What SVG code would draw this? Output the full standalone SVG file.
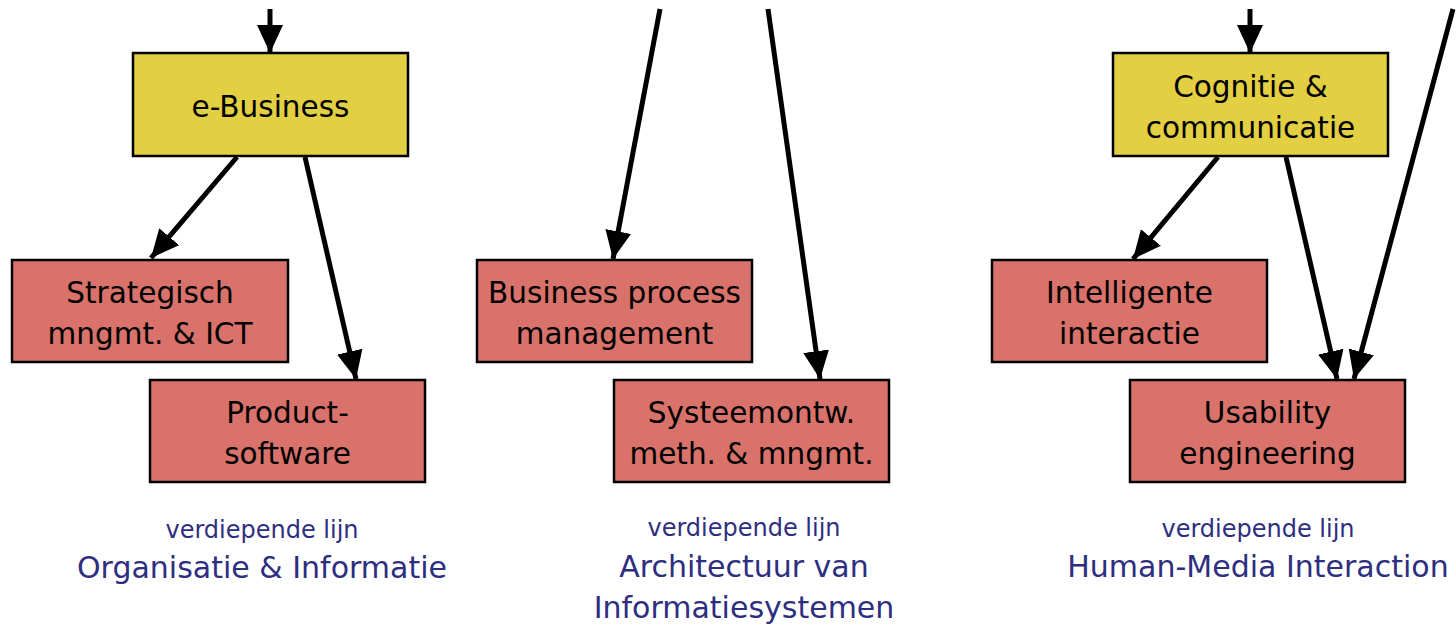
<svg xmlns="http://www.w3.org/2000/svg" width="1456" height="625" viewBox="0 0 1456 625">
<style>
.y{fill:#E2CF42;stroke:#000;stroke-width:2.5}
.r{fill:#D9726B;stroke:#000;stroke-width:2.5}
.t{font-family:"DejaVu Sans","Noto Sans",sans-serif;font-size:29.5px;fill:#000;text-anchor:middle}
.c{stroke:#000;stroke-width:5;fill:none;marker-end:url(#ah)}
.s{font-family:"DejaVu Sans","Noto Sans",sans-serif;font-size:24px;fill:#2E2E80;text-anchor:middle}
.b{font-family:"DejaVu Sans","Noto Sans",sans-serif;font-size:30px;fill:#2E2E80;text-anchor:middle}
</style>
<defs>
<marker id="ah" markerUnits="userSpaceOnUse" markerWidth="30" markerHeight="28" refX="28" refY="13" orient="auto" viewBox="0 0 30 28">
<path d="M0,0 L28,13 L0,26 z" fill="#000"/>
</marker>
</defs>
<rect width="1456" height="625" fill="#fff"/>
<g id="connectors">
<line class="c" x1="270" y1="9" x2="270" y2="53"/>
<line class="c" x1="237" y1="157" x2="151" y2="258"/>
<line class="c" x1="305" y1="157" x2="356" y2="379"/>
<line class="c" x1="660" y1="9" x2="613" y2="259"/>
<line class="c" x1="768" y1="9" x2="820" y2="379"/>
<line class="c" x1="1250" y1="9" x2="1250" y2="53"/>
<line class="c" x1="1218" y1="157" x2="1133" y2="259"/>
<line class="c" x1="1286" y1="157" x2="1337" y2="379"/>
<line class="c" x1="1453" y1="9" x2="1354" y2="379"/>
</g>
<g id="ebusiness"><rect class="y" x="133" y="53" width="275" height="103"/><text class="t" x="270.5" y="117">e-Business</text></g>
<g id="strategisch"><rect class="r" x="12" y="260" width="276" height="102"/><text class="t" x="150" y="303">Strategisch</text><text class="t" x="150" y="344">mngmt. &amp; ICT</text></g>
<g id="productsoftware"><rect class="r" x="150" y="380" width="275" height="102"/><text class="t" x="287.5" y="423">Product-</text><text class="t" x="287.5" y="464">software</text></g>
<g id="bpm"><rect class="r" x="477" y="260" width="275" height="102"/><text class="t" x="614.5" y="303">Business process</text><text class="t" x="614.5" y="344">management</text></g>
<g id="systeemontw"><rect class="r" x="614" y="380" width="275" height="102"/><text class="t" x="751.5" y="423">Systeemontw.</text><text class="t" x="751.5" y="464">meth. &amp; mngmt.</text></g>
<g id="cognitie"><rect class="y" x="1113" y="53" width="275" height="103"/><text class="t" x="1250.5" y="97">Cognitie &amp;</text><text class="t" x="1250.5" y="138">communicatie</text></g>
<g id="intelligente"><rect class="r" x="992" y="260" width="275" height="102"/><text class="t" x="1129.5" y="303">Intelligente</text><text class="t" x="1129.5" y="344">interactie</text></g>
<g id="usability"><rect class="r" x="1130" y="380" width="275" height="102"/><text class="t" x="1267.5" y="423">Usability</text><text class="t" x="1267.5" y="464">engineering</text></g>
<g id="label-oi"><text class="s" x="262" y="538">verdiepende lijn</text><text class="b" x="262" y="578">Organisatie &amp; Informatie</text></g>
<g id="label-ais"><text class="s" x="744" y="536">verdiepende lijn</text><text class="b" x="744" y="577">Architectuur van</text><text class="b" x="744" y="618">Informatiesystemen</text></g>
<g id="label-hmi"><text class="s" x="1258" y="537">verdiepende lijn</text><text class="b" x="1258" y="577">Human-Media Interaction</text></g>
</svg>
